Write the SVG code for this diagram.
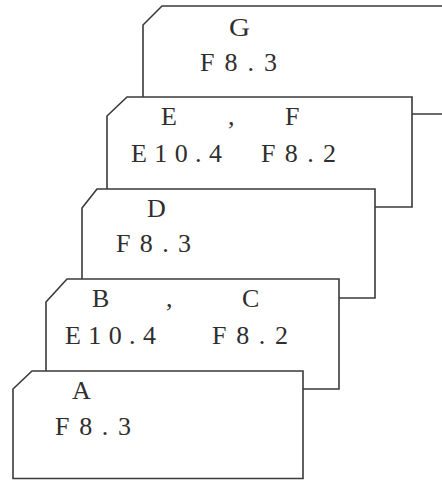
<svg xmlns="http://www.w3.org/2000/svg" width="442" height="480" viewBox="0 0 442 480">
  <style>
    .card { fill: #ffffff; stroke: #3a3a3a; stroke-width: 1.6; stroke-linejoin: miter; }
    .t { font-family: "Liberation Serif", "DejaVu Serif", serif; font-size: 26px; fill: #2e2e2e; }
  </style>
  <rect x="0" y="0" width="442" height="480" fill="#ffffff"/>

  <!-- Cards are painted back to front; each white card hides the one behind it -->
  <g id="card-G">
    <polygon class="card" points="143,25 162,6 470,6 470,114 143,114"/>
    <text class="t" x="229" y="36" textLength="21" lengthAdjust="spacingAndGlyphs">G</text>
    <text class="t" x="200" y="71" textLength="77" lengthAdjust="spacing">F8.3</text>
  </g>

  <g id="card-EF">
    <polygon class="card" points="107,116 127,97 412,97 412,207 107,207"/>
    <text class="t" x="161" y="125">E</text>
    <text class="t" x="228" y="125">,</text>
    <text class="t" x="285" y="125">F</text>
    <text class="t" x="131" y="162" textLength="91" lengthAdjust="spacing">E10.4</text>
    <text class="t" x="261" y="162" textLength="75" lengthAdjust="spacing">F8.2</text>
  </g>

  <g id="card-D">
    <polygon class="card" points="82,208 97,189 375,189 375,298 82,298"/>
    <text class="t" x="147" y="217">D</text>
    <text class="t" x="116" y="252" textLength="75" lengthAdjust="spacing">F8.3</text>
  </g>

  <g id="card-BC">
    <polygon class="card" points="46,302 67,279 339,279 339,389 46,389"/>
    <text class="t" x="92" y="307">B</text>
    <text class="t" x="166" y="307">,</text>
    <text class="t" x="242" y="307">C</text>
    <text class="t" x="65" y="344" textLength="91" lengthAdjust="spacing">E10.4</text>
    <text class="t" x="212" y="344" textLength="76" lengthAdjust="spacing">F8.2</text>
  </g>

  <g id="card-A">
    <polygon class="card" points="13,389 32,371 303,371 303,478.5 13,478.5"/>
    <text class="t" x="72" y="399">A</text>
    <text class="t" x="55" y="435" textLength="76" lengthAdjust="spacing">F8.3</text>
  </g>
</svg>
